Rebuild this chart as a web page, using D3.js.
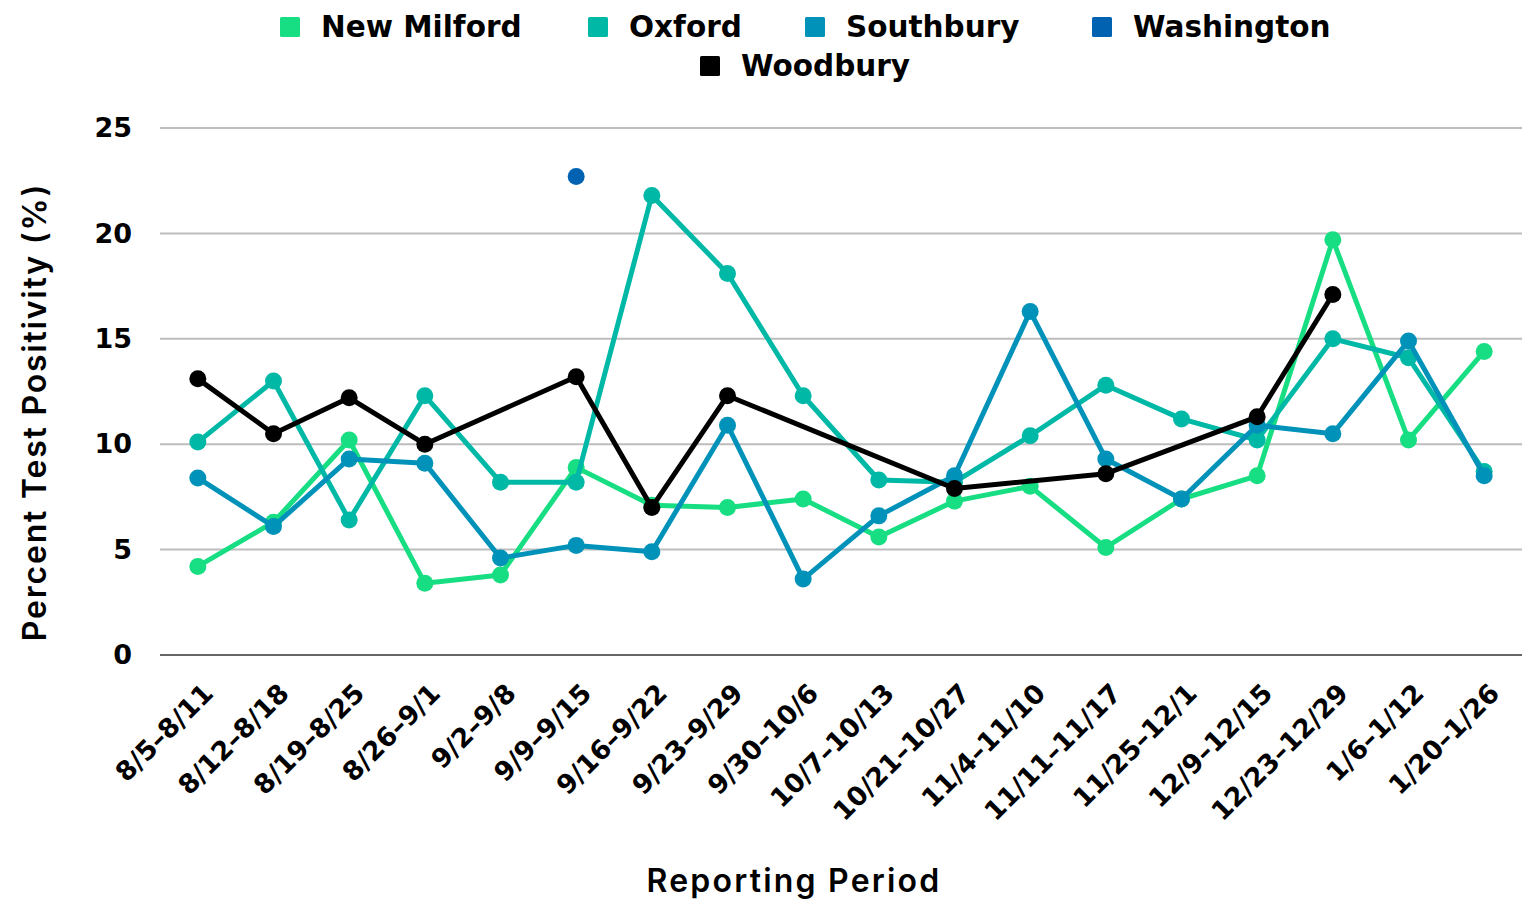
<!DOCTYPE html>
<html>
<head>
<meta charset="utf-8">
<script src="https://cdn.jsdelivr.net/npm/d3@7"></script>
<style>
body { margin: 0; background: #fff; }
svg { font-family: "DejaVu Sans", sans-serif; }
.grid line { stroke: #bdbdbd; stroke-width: 2px; }
.axis text { font-family: "DejaVu Sans", sans-serif; font-weight: bold; fill: #000; }
.axis--y text { font-size: 27px; }
.axis--x text { font-size: 26.5px; }
.axis-title { font-family: Inter, sans-serif; font-size: 32px; font-weight: 600; fill: #000; }
.legend text { font-size: 29.5px; font-weight: bold; fill: #000; }
.line { fill: none; stroke-width: 5px; stroke-linejoin: round; }
</style>
</head>
<body>
<div id="chart"></div>
<script>
var periods = ["8/5\u20138/11", "8/12\u20138/18", "8/19\u20138/25", "8/26\u20139/1", "9/2\u20139/8",
  "9/9\u20139/15", "9/16\u20139/22", "9/23\u20139/29", "9/30\u201310/6", "10/7\u201310/13",
  "10/21\u201310/27", "11/4\u201311/10", "11/11\u201311/17", "11/25\u201312/1", "12/9\u201312/15",
  "12/23\u201312/29", "1/6\u20131/12", "1/20\u20131/26"];

var towns = ["New Milford", "Oxford", "Southbury", "Washington", "Woodbury"];
var colors = ["#17de82", "#00b8a6", "#0092b8", "#0062b0", "#000000"];

var newMilford = [4.2, 6.3, 10.2, 3.4, 3.8, 8.9, 7.1, 7.0, 7.4, 5.6, 7.3, 8.0, 5.1, 7.4, 8.5, 19.7, 10.2, 14.4];
var oxford     = [10.1, 13.0, 6.4, 12.3, 8.2, 8.2, 21.8, 18.1, 12.3, 8.3, 8.2, 10.4, 12.8, 11.2, 10.2, 15.0, 14.1, 8.7];
var southbury  = [8.4, 6.1, 9.3, 9.1, 4.6, 5.2, 4.9, 10.9, 3.6, 6.6, 8.5, 16.3, 9.3, 7.4, 10.9, 10.5, 14.9, 8.5];
var washington = [null, null, null, null, null, 22.7, null, null, null, null, null, null, null, null, null, null, null, null];
var woodbury   = [13.1, 10.5, 12.2, 10.0, null, 13.2, 7.0, 12.3, null, null, 7.9, null, 8.6, null, 11.3, 17.1, null, null];

var yTicks = [0, 5, 10, 15, 20, 25];

var series = [newMilford, oxford, southbury, washington, woodbury];

var W = 1523, H = 901;
var margin = {top: 128, right: 1, bottom: 246, left: 160},
    width  = W - margin.left - margin.right,
    height = H - margin.top - margin.bottom;

var x = d3.scaleBand().domain(periods).range([0, width]);
var y = d3.scaleLinear().domain([0, 25]).range([height, 0]);

var svg = d3.select("#chart").append("svg")
    .attr("width", W)
    .attr("height", H);

var g = svg.append("g")
    .attr("transform", "translate(" + margin.left + "," + margin.top + ")");

// gridlines
g.append("g")
    .attr("class", "grid")
  .selectAll("line")
  .data(yTicks)
  .enter().append("line")
    .attr("x1", 0)
    .attr("x2", width)
    .attr("y1", function(d) { return y(d); })
    .attr("y2", function(d) { return y(d); })
    .style("stroke", function(d) { return d === 0 ? "#666" : null; });

var yAxis = g.append("g")
    .attr("class", "axis axis--y")
    .call(d3.axisLeft(y).tickValues(yTicks).tickSize(0).tickPadding(28));
yAxis.select(".domain").remove();

var xAxis = g.append("g")
    .attr("class", "axis axis--x")
    .attr("transform", "translate(0," + height + ")")
    .call(d3.axisBottom(x).tickSize(0));
xAxis.select(".domain").remove();
xAxis.selectAll("text")
    .attr("text-anchor", "end")
    .attr("dy", null)
    .attr("y", 0)
    .attr("transform", "translate(17,40) rotate(-45)");

// axis titles
svg.append("text")
    .attr("class", "axis-title")
    .attr("x", 794)
    .attr("y", 892)
    .attr("text-anchor", "middle")
    .style("letter-spacing", "2.2px")
    .text("Reporting Period");

svg.append("text")
    .attr("class", "axis-title")
    .attr("transform", "translate(46,412) rotate(-90)")
    .attr("text-anchor", "middle")
    .style("letter-spacing", "1.8px")
    .text("Percent Test Positivity (%)");

// lines + markers
var line = d3.line()
    .x(function(d) { return x(d.p) + x.bandwidth() / 2; })
    .y(function(d) { return y(d.v); });

series.forEach(function(vals, i) {
  var pts = vals.map(function(v, j) { return {p: periods[j], v: v}; })
      .filter(function(d) { return d.v !== null; });
  if (pts.length > 1) {
    g.append("path")
        .datum(pts)
        .attr("class", "line")
        .attr("stroke", colors[i])
        .attr("d", line);
  }
  g.append("g").selectAll("circle")
    .data(pts)
    .enter().append("circle")
      .attr("cx", function(d) { return x(d.p) + x.bandwidth() / 2; })
      .attr("cy", function(d) { return y(d.v); })
      .attr("r", 8.5)
      .attr("fill", colors[i]);
});

// legend
var legendPos = [[280, 27], [588, 27], [805, 27], [1092, 27], [700, 66]];
var legend = svg.append("g").attr("class", "legend");
towns.forEach(function(t, i) {
  var item = legend.append("g")
      .attr("transform", "translate(" + legendPos[i][0] + "," + legendPos[i][1] + ")");
  item.append("rect")
      .attr("x", 0).attr("y", -10)
      .attr("width", 20).attr("height", 20)
      .attr("rx", 1.5)
      .attr("fill", colors[i]);
  item.append("text")
      .attr("x", 41)
      .attr("y", 10)
      .text(t);
});
</script>
</body>
</html>
